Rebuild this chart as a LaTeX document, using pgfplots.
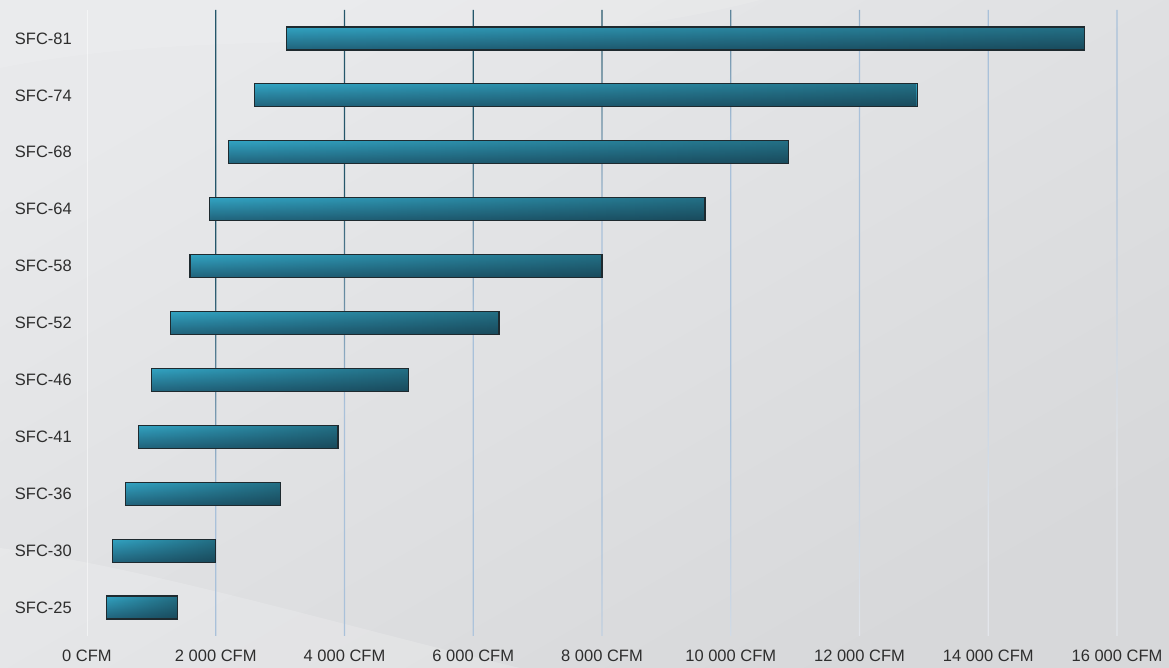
\documentclass[border=0pt]{standalone}
\usepackage{pgfplots}
\pgfplotsset{compat=1.18}
\usepackage{pgfplotstable}
\usetikzlibrary{fadings}
\usepackage{fontspec}
\setmainfont{Liberation Sans}

\definecolor{barlight}{HTML}{32A3C2}
\definecolor{barlow}{HTML}{21627A}
\definecolor{bardeep}{HTML}{0E2730}
\definecolor{baredge}{HTML}{1E2A2F}
\definecolor{gridtop}{HTML}{24566A}
\definecolor{gridmid}{HTML}{A9C1DA}
\definecolor{gridbot}{HTML}{E3E6EB}
\definecolor{labelgray}{HTML}{2E2E2E}
\definecolor{bgA}{HTML}{E8E9EB}
\definecolor{bgB}{HTML}{D7D8DA}

% guide lines: dark at the top, light blue in the middle, almost gone at the bottom
\pgfdeclareverticalshading{gridfade}{100bp}{%
  color(0bp)=(gridbot); color(25bp)=(gridbot); color(42bp)=(gridmid);
  color(58bp)=(gridmid); color(70bp)=(gridtop); color(100bp)=(gridtop)}

% Airflow range of each fan model (CFM)
\pgfplotstableread{
idx lo   hi
0   300  1400
1   400  2000
2   600  3000
3   800  3900
4   1000 5000
5   1300 6400
6   1600 8000
7   1900 9600
8   2200 10900
9   2600 12900
10  3100 15500
}\ranges

\pgfplotsset{
  % body: light at the top, deeper at the bottom
  barbody/.style={draw=none, top color=barlight, bottom color=barlow},
  % darkening towards the high end of the range
  bartint/.style={draw=none, fill=bardeep, fill opacity=0.42, path fading=west},
  barline/.style={draw=baredge, line width=1.2pt, fill=none},
}

\begin{document}
\begin{tikzpicture}[x=1pt,y=1pt]
  % backdrop
  \shade[top color=bgA, bottom color=bgB, shading angle=30] (0,0) rectangle (1169,668);
  \fill[white, opacity=0.18] (0,0) -- (0,120) .. controls (150,100) and (350,40) .. (520,0) -- cycle;
  \fill[white, opacity=0.12] (0,668) -- (0,600) .. controls (250,650) and (500,600) .. (760,668) -- cycle;

  \begin{axis}[
    at={(87pt,32pt)}, anchor=south west,
    scale only axis, width=1030pt, height=626pt,
    xmin=0, xmax=16000, ymin=-0.5, ymax=10.5,
    axis line style={draw=none}, tick style={draw=none},
    xtick={0,2000,4000,6000,8000,10000,12000,14000,16000},
    xticklabels={0 CFM,2 000 CFM,4 000 CFM,6 000 CFM,8 000 CFM,10 000 CFM,12 000 CFM,14 000 CFM,16 000 CFM},
    ytick={0,...,10},
    yticklabels={SFC-25,SFC-30,SFC-36,SFC-41,SFC-46,SFC-52,SFC-58,SFC-64,SFC-68,SFC-74,SFC-81},
    scaled x ticks=false,
    tick label style={font=\fontsize{16.5}{18}\selectfont, text=labelgray},
    xticklabel style={inner sep=0pt, yshift=-14pt},
    yticklabel style={inner sep=0pt, xshift=-15pt},
    clip=false,
  ]
    % vertical guide lines, one shaded path for all of them
    \draw[white, opacity=0.5, line width=1pt] (axis cs:0,-0.5) -- (axis cs:0,10.5);
    \shade[shading=gridfade, shading angle=35]
      \foreach \g in {2000,4000,6000,8000,10000,12000,14000,16000} {
        ([xshift=-0.7pt]axis cs:\g,-0.5) rectangle ([xshift=0.7pt]axis cs:\g,10.5)
      };
    % one closed outline per model, from low to high airflow
    \pgfplotsinvokeforeach{0,...,10}{
      \pgfplotstablegetelem{#1}{lo}\of\ranges \edef\barlo{\pgfplotsretval}
      \pgfplotstablegetelem{#1}{hi}\of\ranges \edef\barhi{\pgfplotsretval}
      \pgfmathsetmacro\ylo{#1-0.2021}
      \pgfmathsetmacro\yhi{#1+0.2021}
      \edef\next{%
        \noexpand\addplot[barbody] coordinates
          {(\barlo,\ylo) (\barhi,\ylo) (\barhi,\yhi) (\barlo,\yhi)} -- cycle;
        \noexpand\addplot[bartint] coordinates
          {(\barlo,\ylo) (\barhi,\ylo) (\barhi,\yhi) (\barlo,\yhi)} -- cycle;
        \noexpand\addplot[barline] coordinates
          {(\barlo,\ylo) (\barhi,\ylo) (\barhi,\yhi) (\barlo,\yhi)} -- cycle;}
      \next
    }
  \end{axis}
  \pgfresetboundingbox
  \useasboundingbox (0,0) rectangle (1169,668);
\end{tikzpicture}
\end{document}
